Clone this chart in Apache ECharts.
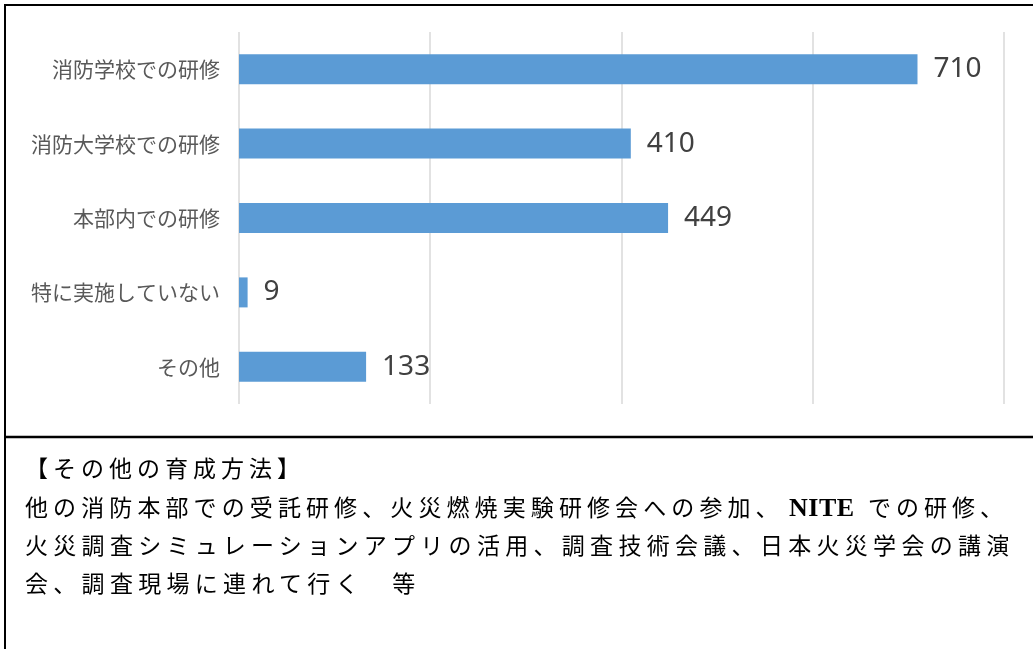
<!DOCTYPE html>
<html>
<head>
<meta charset="utf-8">
<script src="https://cdn.jsdelivr.net/npm/echarts@6/dist/echarts.min.js"></script>
<style>
  body { margin: 0; background: #fff; }
  #chart { position: absolute; left: 0; top: 0; width: 1033px; height: 649px; }
  .note {
    position: absolute; left: 25px; white-space: nowrap;
    font-family: "Liberation Serif", "Noto Sans CJK JP", serif;
    font-size: 23px; color: #000; line-height: 1;
  }
  .latin { font-weight: bold; font-size: 26px; letter-spacing: 0.5px; }
</style>
</head>
<body>
<div id="chart"></div>
<div class="note" style="top:458px; letter-spacing:5px;">【その他の育成方法】</div>
<div class="note" style="top:497px; letter-spacing:5.1px;">他の消防本部での受託研修、火災燃焼実験研修会への参加、</div>
<div class="note latin" style="top:495px; left:789px;">NITE</div>
<div class="note" style="top:497px; left:868px; letter-spacing:5px;">での研修、</div>
<div class="note" style="top:535px; letter-spacing:5.3px;">火災調査シミュレーションアプリの活用、調査技術会議、日本火災学会の講演</div>
<div class="note" style="top:573px; letter-spacing:5.3px;">会、調査現場に連れて行く　等</div>
<script>
  // 育成方法ごとの件数
  let categories = ['消防学校での研修', '消防大学校での研修', '本部内での研修', '特に実施していない', 'その他']
  let counts = [710, 410, 449, 9, 133]
  let axisMin = 0
  let axisMax = 800
  let axisStep = 200

  var myChart = echarts.init(document.getElementById('chart'))

  var option = {
    animation: false,
    grid: {
      left: 239,
      right: 29.5,
      top: 32,
      bottom: 245
    },
    xAxis: {
      type: 'value',
      min: axisMin,
      max: axisMax,
      interval: axisStep,
      axisLabel: { show: false },
      axisLine: { show: false },
      axisTick: { show: false },
      splitLine: { show: true, lineStyle: { color: '#d9d9d9', width: 1.5 } }
    },
    yAxis: {
      type: 'category',
      data: categories,
      inverse: true,
      axisLine: { show: false },
      axisTick: { show: false },
      axisLabel: {
        margin: 19,
        color: '#595959',
        fontSize: 21,
        fontFamily: 'Noto Sans CJK JP'
      }
    },
    series: [{
      type: 'bar',
      data: counts,
      barWidth: 30,
      itemStyle: { color: '#5b9bd5' },
      label: {
        show: true,
        position: 'right',
        distance: 16,
        color: '#404040',
        fontSize: 28,
        fontFamily: 'Noto Sans'
      }
    }],
    graphic: [
      { type: 'line', shape: { x1: 5, y1: 4, x2: 5, y2: 649 }, style: { stroke: '#000', lineWidth: 2 } },
      { type: 'line', shape: { x1: 4, y1: 5, x2: 1033, y2: 5 }, style: { stroke: '#000', lineWidth: 2 } },
      { type: 'line', shape: { x1: 4, y1: 437, x2: 1033, y2: 437 }, style: { stroke: '#000', lineWidth: 2.5 } }
    ]
  }

  myChart.setOption(option)
</script>
</body>
</html>
